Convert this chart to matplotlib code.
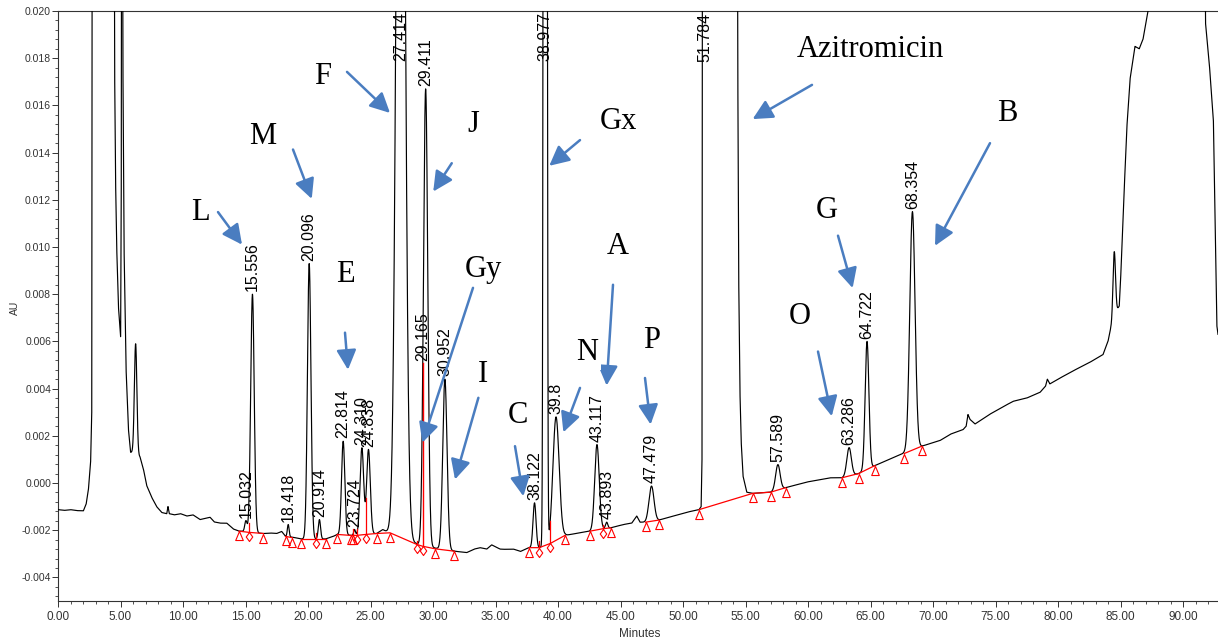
import numpy as np
import matplotlib
matplotlib.use("Agg")
import matplotlib.pyplot as plt
from matplotlib.path import Path
from matplotlib.ticker import MultipleLocator, AutoMinorLocator, FuncFormatter

plt.rcParams['axes.unicode_minus'] = False

# ---------------- data ----------------
# background trace (baseline, solvent front, off-scale bands), minutes / AU
bg_time = [0.0, 0.5, 1.0, 1.5, 2.03, 2.25, 2.43, 2.61, 2.70, 2.75,
           4.48, 4.53, 4.60, 4.69, 4.83, 5.01, 5.06, 5.10, 5.15, 5.19, 5.28, 5.44, 5.63, 5.81, 6.03, 6.30, 6.56, 6.83, 7.09, 7.49, 7.89,
           8.30, 8.70, 8.80, 8.90, 9.30, 9.80, 10.30, 10.80, 11.36, 11.80, 12.16, 12.50, 12.96, 13.50, 14.03, 14.48,
           15.00, 15.50, 16.00, 16.43, 17.00, 17.49, 17.89, 18.20, 18.80, 19.44, 20.00, 20.60, 21.41, 22.03, 22.35,
           23.00, 23.50, 24.00, 24.60, 25.00, 25.49, 25.97, 26.56, 27.00, 27.50, 28.00, 28.69, 29.17, 29.70, 30.19,
           31.00, 31.89, 32.69, 33.30, 33.76, 34.30, 34.69, 35.00, 35.36, 35.63, 36.43, 37.00, 37.68, 38.50, 39.39,
           40.00, 40.56, 41.76, 42.56, 43.57, 44.21, 45.23, 45.90, 46.30, 46.56, 47.00, 48.08, 49.23, 50.29, 51.28,
           51.45, 51.52, 51.57, 54.33, 54.38, 54.45, 54.55, 54.65, 54.80, 55.10, 55.57, 57.00, 58.20, 59.90, 61.76,
           62.70, 64.05, 65.36, 66.50, 67.60, 69.10, 70.56, 71.40, 72.40, 72.65, 72.80, 72.95, 73.36, 74.50, 75.50,
           76.40, 77.50, 78.56, 79.00, 79.15, 79.35, 80.00, 81.20, 82.50, 83.60, 84.00, 84.20, 84.50, 84.80,
           84.90, 85.00, 85.20, 85.50, 85.76, 86.16, 86.50, 86.80, 87.00, 87.20, 87.35, 91.65, 91.80, 92.10,
           92.43, 92.60, 92.70, 92.80]
bg_au = [-0.00113, -0.00116, -0.00113, -0.00117, -0.00118, -0.00090, -0.00030, 0.00090, 0.00300, 0.035,
         0.035, 0.0175, 0.0130, 0.0101, 0.0075, 0.0062, 0.0120, 0.035, 0.035, 0.0180, 0.0101, 0.0049, 0.0023, 0.0013, 0.0013, 0.0012, 0.0011, 0.0006, -0.0001, -0.0006, -0.0010,
         -0.00125, -0.00130, -0.00100, -0.00130, -0.00135, -0.00130, -0.00140, -0.00135, -0.00155, -0.00150, -0.00145, -0.00165, -0.00170, -0.00170, -0.00195, -0.00204,
         -0.00205, -0.00210, -0.00212, -0.00214, -0.00212, -0.00214, -0.00205, -0.00226, -0.00230, -0.00237, -0.00237, -0.00237, -0.00237, -0.00226, -0.00218,
         -0.00220, -0.00222, -0.00220, -0.00218, -0.00216, -0.00214, -0.00197, -0.00214, -0.00230, -0.00240, -0.00250, -0.00257, -0.00265, -0.00270, -0.00276,
         -0.00282, -0.00290, -0.00295, -0.00280, -0.00274, -0.00280, -0.00262, -0.00270, -0.00280, -0.00281, -0.00280, -0.00290, -0.00274, -0.00274, -0.00256,
         -0.00240, -0.00222, -0.00211, -0.00204, -0.00194, -0.00190, -0.00176, -0.00170, -0.00140, -0.00166, -0.00166, -0.00157, -0.00140, -0.00124, -0.00113,
         -0.00100, 0.00100, 0.035, 0.035, 0.018, 0.009, 0.004, 0.0018, 0.0003, -0.00039, -0.00044, -0.00039, -0.00020, 0.00004, 0.00022,
         0.00022, 0.00040, 0.00074, 0.00100, 0.00125, 0.00156, 0.00180, 0.00207, 0.00226, 0.00240, 0.00290, 0.00270, 0.00250, 0.00290, 0.00320,
         0.00346, 0.00360, 0.00384, 0.00410, 0.00440, 0.00420, 0.00440, 0.00475, 0.00510, 0.00544, 0.00600, 0.00650, 0.00700, 0.00740,
         0.00750, 0.00850, 0.01120, 0.01500, 0.01710, 0.01850, 0.01840, 0.01880, 0.01940, 0.02000, 0.035, 0.035, 0.01950, 0.01780,
         0.01540, 0.01000, 0.00670, 0.00630]

# detected peaks: retention time, apex AU, width (sigma, min), label
peak_rt = [6.21, 15.032, 15.556, 18.418, 20.096, 20.914, 22.814, 23.724, 24.310, 24.838,
           27.414, 29.411, 30.952, 38.122, 38.977, 39.84, 43.117, 43.893, 47.479,
           57.589, 63.286, 64.722, 68.354, 84.50]
peak_apex = [0.0059, -0.00160, 0.0080, -0.00176, 0.0093, -0.00155, 0.00177, -0.00197, 0.00149, 0.00142,
             0.050, 0.0167, 0.0044, -0.00084, 0.30, 0.0028, 0.00163, -0.00166, -0.00013,
             0.00078, 0.0015, 0.0060, 0.0115, 0.0098]
peak_sigma = [0.10, 0.09, 0.14, 0.07, 0.14, 0.09, 0.13, 0.07, 0.145, 0.145,
              0.30, 0.17, 0.17, 0.12, 0.08, 0.25, 0.18, 0.09, 0.20,
              0.18, 0.18, 0.15, 0.21, 0.10]
peak_label = ['', '15.032', '15.556', '18.418', '20.096', '20.914', '22.814', '23.724', '24.310', '24.838',
              '27.414', '29.411', '30.952', '38.122', '38.977', '39.8', '43.117', '43.893', '47.479',
              '57.589', '63.286', '64.722', '68.354', '']

# extra label on the overloaded Azitromicin front
front_rt = 51.72
front_label = '51.784'

# shoulder marked with a red line (29.165)
shoulder_rt = 29.165
shoulder_base = -0.00267
shoulder_top = 0.0051
shoulder_label = '29.165'

# integration baseline segments (time, AU, marker: t=triangle, d=diamond)
bl_time = [[14.48, 15.25, 16.43],
           [18.20, 18.75],
           [19.44, 20.64, 21.41],
           [22.35, 23.41, 23.57, 23.89, 24.61, 25.49, 26.56, 28.69, 29.17, 30.19, 31.71],
           [37.68, 38.50, 39.39, 40.56],
           [42.56, 43.57, 44.21],
           [47.00, 48.08],
           [51.28, 55.57, 57.00, 58.20],
           [62.70, 64.05, 65.36],
           [67.70, 69.10]]
bl_au = [[-0.00204, -0.00209, -0.00214],
         [-0.00226, -0.00232],
         [-0.00237, -0.00237, -0.00237],
         [-0.00218, -0.00222, -0.00222, -0.00222, -0.00218, -0.00214, -0.00211, -0.00260, -0.00268, -0.00279, -0.00289],
         [-0.00274, -0.00274, -0.00256, -0.00222],
         [-0.00204, -0.00194, -0.00190],
         [-0.00166, -0.00157],
         [-0.00113, -0.00044, -0.00039, -0.00020],
         [0.00022, 0.00040, 0.00074],
         [0.00125, 0.00156]]
bl_mark = [['t', 'd', 't'],
           ['t', 't'],
           ['t', 'd', 't'],
           ['t', 't', 't', 'd', 'd', 't', 't', 'd', 'd', 't', 't'],
           ['t', 'd', 'd', 't'],
           ['t', 'd', 't'],
           ['t', 't'],
           ['t', 't', 't', 't'],
           ['t', 't', 't'],
           ['t', 't']]

# red drop lines between unresolved peaks
drop_time = [15.25, 20.64, 23.57, 23.89, 24.61, 28.69, 38.50, 39.39, 43.57]
drop_base = [-0.00209, -0.00237, -0.00222, -0.00222, -0.00218, -0.00260, -0.00274, -0.00256, -0.00194]
drop_top = [-0.00170, -0.00210, -0.00197, -0.00193, -0.00063, -0.00245, -0.00246, -0.00160, -0.00176]

# annotations: letter, letter position, arrow tail, arrow head (minutes, AU)
ann_text = ['L', 'M', 'F', 'J', 'Gx', 'Gy', 'E', 'I', 'C', 'N', 'A', 'P', 'O', 'G', 'B', 'Azitromicin']
ann_pos = [(11.36, 0.01145), (16.40, 0.01467), (21.20, 0.01721), (33.20, 0.01517), (44.80, 0.01530),
           (34.00, 0.00905), (22.96, 0.00883), (34.00, 0.00459), (36.80, 0.00286), (42.32, 0.00552),
           (44.80, 0.01001), (47.52, 0.00603), (59.36, 0.00705), (61.52, 0.01153), (75.92, 0.01564),
           (64.96, 0.01835)]
arrow_tail = [(12.80, 0.01148), (18.80, 0.01413), (23.12, 0.01742), (31.50, 0.01355), (41.76, 0.01453),
              (33.20, 0.00827), (22.96, 0.00637), (33.63, 0.00361), (36.56, 0.00156), (41.76, 0.00403),
              (44.40, 0.00840), (46.96, 0.00445), (60.80, 0.00557), (62.40, 0.01048), (74.56, 0.01440),
              (60.32, 0.01687)]
arrow_head = [(14.72, 0.01010), (20.30, 0.01204), (26.56, 0.01568), (30.02, 0.01235), (39.30, 0.01344),
              (29.15, 0.00171), (23.20, 0.00480), (31.76, 0.00015), (37.23, -0.00056), (40.43, 0.00215),
              (43.89, 0.00413), (47.41, 0.00248), (61.90, 0.00283), (63.57, 0.00826), (70.16, 0.01005),
              (55.57, 0.01542)]

# axis ranges / ticks
x_range = (0.0, 92.8)
y_range = (-0.005, 0.020)

# ---------------- build trace ----------------
bg_t = np.array(bg_time)
bg_y = np.array(bg_au)
t = np.union1d(np.linspace(x_range[0], x_range[1], 30000), bg_t)
signal = np.interp(t, bg_t, bg_y)
for rt, apex, sg in zip(peak_rt, peak_apex, peak_sigma):
    amp = apex - np.interp(rt, bg_t, bg_y)
    signal = signal + amp * np.exp(-0.5 * ((t - rt) / sg) ** 2)

# ---------------- figure ----------------
W, H = 1218, 643
fig = plt.figure(figsize=(W / 100, H / 100), dpi=100)
ax = fig.add_axes([58 / W, 42 / H, (W - 58) / W, 590 / H])

ax.plot(t, signal, color='black', lw=0.85, zorder=3)

red = '#ff0000'
tri = Path([(0, 0), (-0.42, -1.0), (0.42, -1.0), (0, 0)],
           [Path.MOVETO, Path.LINETO, Path.LINETO, Path.CLOSEPOLY])
dia = Path([(0, 0), (-0.36, -0.5), (0, -1.0), (0.36, -0.5), (0, 0)],
           [Path.MOVETO, Path.LINETO, Path.LINETO, Path.LINETO, Path.CLOSEPOLY])
for ts, ys, ms in zip(bl_time, bl_au, bl_mark):
    ax.plot(ts, ys, color=red, lw=0.9, zorder=4)
    for tt, yy, mk in zip(ts, ys, ms):
        ax.plot([tt], [yy], marker=tri if mk == 't' else dia, ms=13, mfc='none',
                mec=red, mew=0.8, ls='none', zorder=5)
for tt, b, tp in zip(drop_time, drop_base, drop_top):
    ax.plot([tt, tt], [b, tp], color=red, lw=0.9, zorder=4)
ax.plot([shoulder_rt, shoulder_rt], [shoulder_base, shoulder_top], color=red, lw=1.0, zorder=4)

lab_font = dict(family=['Liberation Sans', 'DejaVu Sans'], fontsize=11.5, rotation=90,
                ha='center', color='black', zorder=6)
for rt, apex, lab in zip(peak_rt, peak_apex, peak_label):
    if not lab:
        continue
    if apex < y_range[1] - 0.0005:
        ax.annotate(lab, xy=(rt, apex), xytext=(0, 2), textcoords='offset points',
                    va='bottom', **lab_font)
    else:
        ax.annotate(lab, xy=(rt, 1.0), xycoords=('data', 'axes fraction'), xytext=(0, -1),
                    textcoords='offset points', va='top', **lab_font)
ax.annotate(front_label, xy=(front_rt, 1.0), xycoords=('data', 'axes fraction'), xytext=(0, -1),
            textcoords='offset points', va='top', **lab_font)
ax.annotate(shoulder_label, xy=(shoulder_rt, shoulder_top), xytext=(0, 1), textcoords='offset points',
            va='bottom', **lab_font)

blue = '#4a7dc0'
for txt, pos, tail, head in zip(ann_text, ann_pos, arrow_tail, arrow_head):
    ax.annotate('', xy=head, xytext=tail,
                arrowprops=dict(arrowstyle='-|>,head_length=1.0,head_width=0.5', color=blue,
                                lw=1.8, shrinkA=0, shrinkB=0, mutation_scale=12), zorder=7)
    kw = dict(family=['Liberation Serif', 'DejaVu Serif'], fontsize=22, ha='center', va='center',
              color='black', zorder=8)
    if txt == 'N':
        kw['bbox'] = dict(facecolor='white', edgecolor='none', pad=2)
    ax.text(pos[0], pos[1], txt, **kw)

ax.set_xlim(*x_range)
ax.set_ylim(*y_range)
ax.spines['right'].set_visible(False)
for s in ['top', 'left', 'bottom']:
    ax.spines[s].set_linewidth(0.8)
    ax.spines[s].set_color('#333333')

ax.xaxis.set_major_locator(MultipleLocator(5))
ax.xaxis.set_minor_locator(AutoMinorLocator(5))
ax.yaxis.set_major_locator(MultipleLocator(0.002))
ax.yaxis.set_minor_locator(AutoMinorLocator(5))
ax.xaxis.set_major_formatter(FuncFormatter(lambda v, p: f'{v:.2f}'))
ax.yaxis.set_major_formatter(FuncFormatter(lambda v, p: f'{v:.3f}'))
ax.tick_params(axis='both', which='major', length=4, width=0.7, color='#333333')
ax.tick_params(axis='both', which='minor', length=2.5, width=0.6, color='#333333')
ax.tick_params(axis='y', which='major', pad=1)
ax.tick_params(axis='x', which='major', pad=3)
for lb in ax.get_yticklabels():
    lb.set_fontfamily(['Liberation Sans', 'DejaVu Sans'])
    lb.set_fontsize(7.5)
    lb.set_color('#333333')
for lb in ax.get_xticklabels():
    lb.set_fontfamily(['Liberation Sans Narrow', 'Liberation Sans', 'DejaVu Sans'])
    lb.set_fontsize(8.5)
    lb.set_color('#333333')

fig.text(15 / W, 1 - 308 / H, 'AU', rotation=90, ha='center', va='center', fontsize=7.5,
         family=['Liberation Sans', 'DejaVu Sans'], color='#333333')
fig.text(640 / W, 1 - 634 / H, 'Minutes', ha='center', va='center', fontsize=8.5,
         family=['Liberation Sans Narrow', 'Liberation Sans', 'DejaVu Sans'], color='#333333')

fig.savefig('out.png', dpi=100)
